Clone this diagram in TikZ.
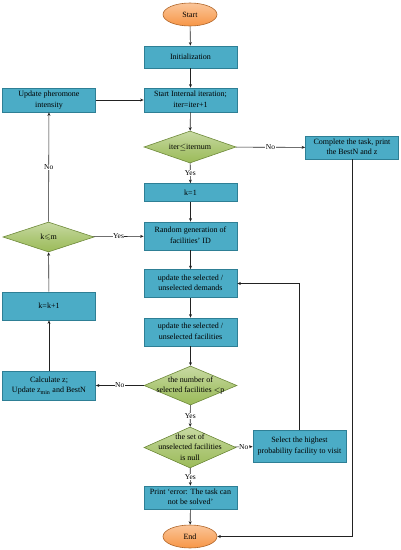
\documentclass[tikz,border=0pt]{standalone}
\usepackage{amssymb}
\usepackage{fontspec}
\setmainfont{Liberation Serif}
\usetikzlibrary{shapes.geometric,arrows.meta}
\definecolor{boxfill}{HTML}{4BACC6}
\definecolor{boxdraw}{HTML}{2E7F95}
\definecolor{dfill}{HTML}{9BBB59}
\definecolor{ddraw}{HTML}{6E8A3A}
\definecolor{efill}{HTML}{F79646}
\definecolor{edraw}{HTML}{B0662A}
\definecolor{linec}{HTML}{222222}
\newcommand{\mlines}[1]{\begin{tabular}{@{}c@{}}#1\end{tabular}}
\begin{document}
\begin{tikzpicture}[x=1pt,y=-1pt,
  every node/.style={font=\fontsize{8}{10.5}\selectfont},
  pbox/.style={rectangle, draw=boxdraw, fill=boxfill, line width=0.8pt, inner sep=1pt,
     minimum width=93pt},
  dec/.style={diamond, draw=ddraw, line width=0.6pt, inner sep=0pt,
     top color=dfill!55!white, bottom color=dfill, middle color=dfill!80!white},
  term/.style={ellipse, draw=edraw, line width=0.6pt, inner sep=0pt,
     top color=efill!55!white, bottom color=efill},
  conn/.style={draw=linec, line width=0.6pt, -{Stealth[length=3.5pt,width=3pt]}},
  lab/.style={fill=white, inner sep=0.5pt, font=\fontsize{7.5}{9}\selectfont}
]
\useasboundingbox (0,0) rectangle (401,550);

\node[term, minimum width=54pt, minimum height=23pt] (start) at (190,14.5) {Start};
\node[pbox, minimum height=22pt] (init) at (190.5,57) {Initialization};
\node[pbox, minimum height=24pt] (iter) at (190.5,100) {\mlines{Start Internal iteration;\\iter=iter+1}};
\node[pbox, minimum height=24pt] (pher) at (49,100) {\mlines{Update pheromone\\intensity}};
\node[dec, minimum width=92pt, minimum height=32pt] (d1) at (190,147) {};
\node (d1t) at (d1.center) {iter$\leq$iternum};
\node[pbox, minimum height=23pt] (comp) at (352,147.5) {\mlines{Complete the task, print\\the BestN and z}};
\node[pbox, minimum height=18pt] (k1) at (190.5,192.5) {k=1};
\node[pbox, minimum height=28pt] (rand) at (190.5,236) {\mlines{Random generation of\\facilities' ID}};
\node[dec, minimum width=91pt, minimum height=30pt] (dk) at (48.5,237) {};
\node (dkt) at (dk.center) {k$\leqslant$m};
\node[pbox, minimum height=28pt] (dem) at (190.5,283.5) {\mlines{update the selected /\\unselected demands}};
\node[pbox, minimum height=28pt] (kk) at (49,306) {k=k+1};
\node[pbox, minimum height=28pt] (fac) at (190.5,332) {\mlines{update the selected /\\unselected facilities}};
\node[dec, minimum width=93pt, minimum height=39pt] (d2) at (190.5,385.5) {};
\node (d2t) at (d2.center) {\mlines{the number of\\selected facilities $<$p}};
\node[pbox, minimum height=29pt] (calc) at (49,385.5) {\mlines{Calculate z;\\Update z$_{\mathrm{min}}$ and BestN}};
\node[dec, minimum width=92pt, minimum height=41pt] (d3) at (190,447.5) {};
\node (d3t) at (d3.center) {\mlines{the set of\\unselected facilities\\is null}};
\node[pbox, minimum height=32pt] (sel) at (299.5,446) {\mlines{Select the highest\\probability facility to visit}};
\node[pbox, minimum height=23pt] (print) at (190.5,497.5) {\mlines{Print `error: The task can\\not be solved'}};
\node[term, minimum width=54pt, minimum height=23pt] (end) at (190,536.5) {End};

\coordinate (selup) at (sel.north |- dem.east);
\coordinate (compdn) at (comp.south |- end.east);

\draw[conn] (start) -- (init);
\draw[conn] (init) -- (iter);
\draw[conn] (pher) -- (iter);
\draw[conn] (iter) -- (d1);
\draw[conn] (d1) -- node[lab] (no1) {No} (comp);
\draw[conn] (d1) -- node[lab] (yes1) {Yes} (k1);
\draw[conn] (k1) -- (rand);
\draw[conn] (dk) -- node[lab] (yes2) {Yes} (rand);
\draw[conn] (dk) -- node[lab] (no2) {No} (pher);
\draw[conn] (rand) -- (dem);
\draw[conn] (dem) -- (fac);
\draw[conn] (fac) -- (d2);
\draw[conn] (d2) -- node[lab] (no3) {No} (calc);
\draw[conn] (calc) -- (kk);
\draw[conn] (kk) -- (dk);
\draw[conn] (d2) -- node[lab] (yes3) {Yes} (d3);
\draw[conn] (d3) -- node[lab] (no4) {No} (sel);
\draw[conn] (sel.north) -- (selup) -- (dem.east);
\draw[conn] (d3) -- node[lab] (yes4) {Yes} (print);
\draw[conn] (print) -- (end);
\draw[conn] (comp.south) -- (compdn) -- (end.east);
\end{tikzpicture}
\end{document}
